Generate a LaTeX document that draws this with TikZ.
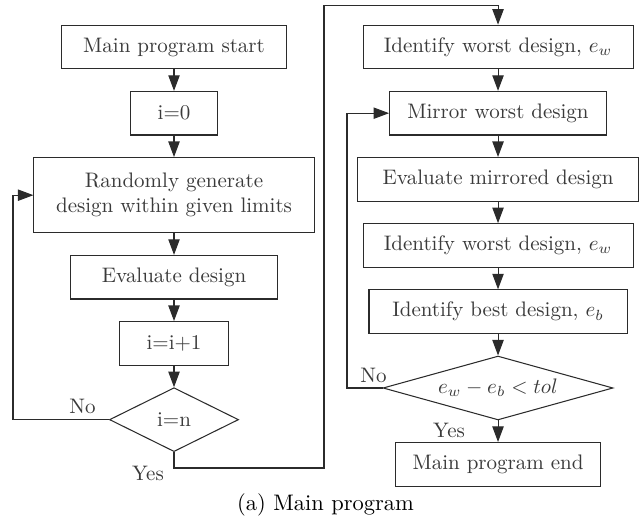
\documentclass[tikz,border=0pt]{standalone}
\usepackage{tikz}
\usetikzlibrary{arrows.meta,positioning,shapes.geometric,calc}
\definecolor{ink}{HTML}{3A3A3A}
\definecolor{edge}{HTML}{2B2B2B}
\tikzset{
  box/.style={draw=edge,line width=0.5pt,fill=white,minimum height=0.73cm,inner sep=4pt,align=center,text=ink},
  decision/.style={diamond,draw=edge,line width=0.5pt,inner sep=0pt,aspect=3,minimum height=1.07cm,text=ink},
  arrow/.style={-{Triangle[length=2.6mm,width=1.9mm]},line width=0.5pt,color=edge},
  lbl/.style={text=ink,inner sep=1pt},
}

\begin{document}
\begin{tikzpicture}[x=1cm,y=1cm,node distance=0.36cm]
  \useasboundingbox (0,0) rectangle (10.697,-8.705);
  % left column
  \node[box,minimum width=3.78cm] (start) at (2.913,-0.787) {Main program start};
  \node[box,minimum width=1.46cm,below=of start] (init) {i=0};
  \node[box,minimum width=4.69cm,minimum height=1.26cm,below=of init] (gen) {Randomly generate\\design within given limits};
  \node[box,minimum width=3.45cm,below=of gen] (eval) {Evaluate design};
  \node[box,minimum width=1.81cm,below=of eval] (incr) {i=i+1};
  \node[decision,minimum width=2.16cm,below=of incr] (check) {i=n};
  % right column
  \node[box,minimum width=4.52cm] (worst) at (8.337,-0.787) {Identify worst design, $e_w$};
  \node[box,minimum width=3.63cm,below=of worst] (mirror) {Mirror worst design};
  \node[box,minimum width=4.69cm,below=of mirror] (evalm) {Evaluate mirrored design};
  \node[box,minimum width=4.52cm,below=of evalm] (worstb) {Identify worst design, $e_w$};
  \node[box,minimum width=4.32cm,below=of worstb] (best) {Identify best design, $e_b$};
  \node[decision,minimum width=3.85cm,below=of best] (conv) {$e_w-e_b<tol$};
  \node[box,minimum width=3.43cm,below=of conv] (finish) {Main program end};
  % loop channels
  \coordinate (lloop) at (0.218,0);
  \coordinate (rloop) at (5.809,0);
  \coordinate (bot) at (5.424,-7.834);
  \coordinate (top) at (5.424,-0.084);
  % arrows
  \foreach \a/\b in {start/init,init/gen,gen/eval,eval/incr,incr/check,
                     worst/mirror,mirror/evalm,evalm/worstb,worstb/best,best/conv,conv/finish}
    \draw[arrow] (\a) -- (\b);
  \draw[arrow] (check.west) -- (check.west -| lloop) |- (gen.west);
  \draw[arrow] (check.south) |- (bot) -- (top) -| (worst.north);
  \draw[arrow] (conv.west) -- (conv.west -| rloop) |- (mirror.west);
  % labels
  \node[lbl] (nol) at ($(check.west)+(-0.444,0.218)$) {No};
  \node[lbl] (yesl) at ($(check.south)+(-0.435,-0.352)$) {Yes};
  \node[lbl] (nor) at ($(conv.west)+(-0.151,0.218)$) {No};
  \node[lbl] (yesr) at ($(conv.south)+(-0.82,-0.167)$) {Yes};
  \node[font=\fontsize{10.7pt}{13pt}\selectfont] (caption) at (5.449,-8.454) {(a) Main program};
\end{tikzpicture}
\end{document}
